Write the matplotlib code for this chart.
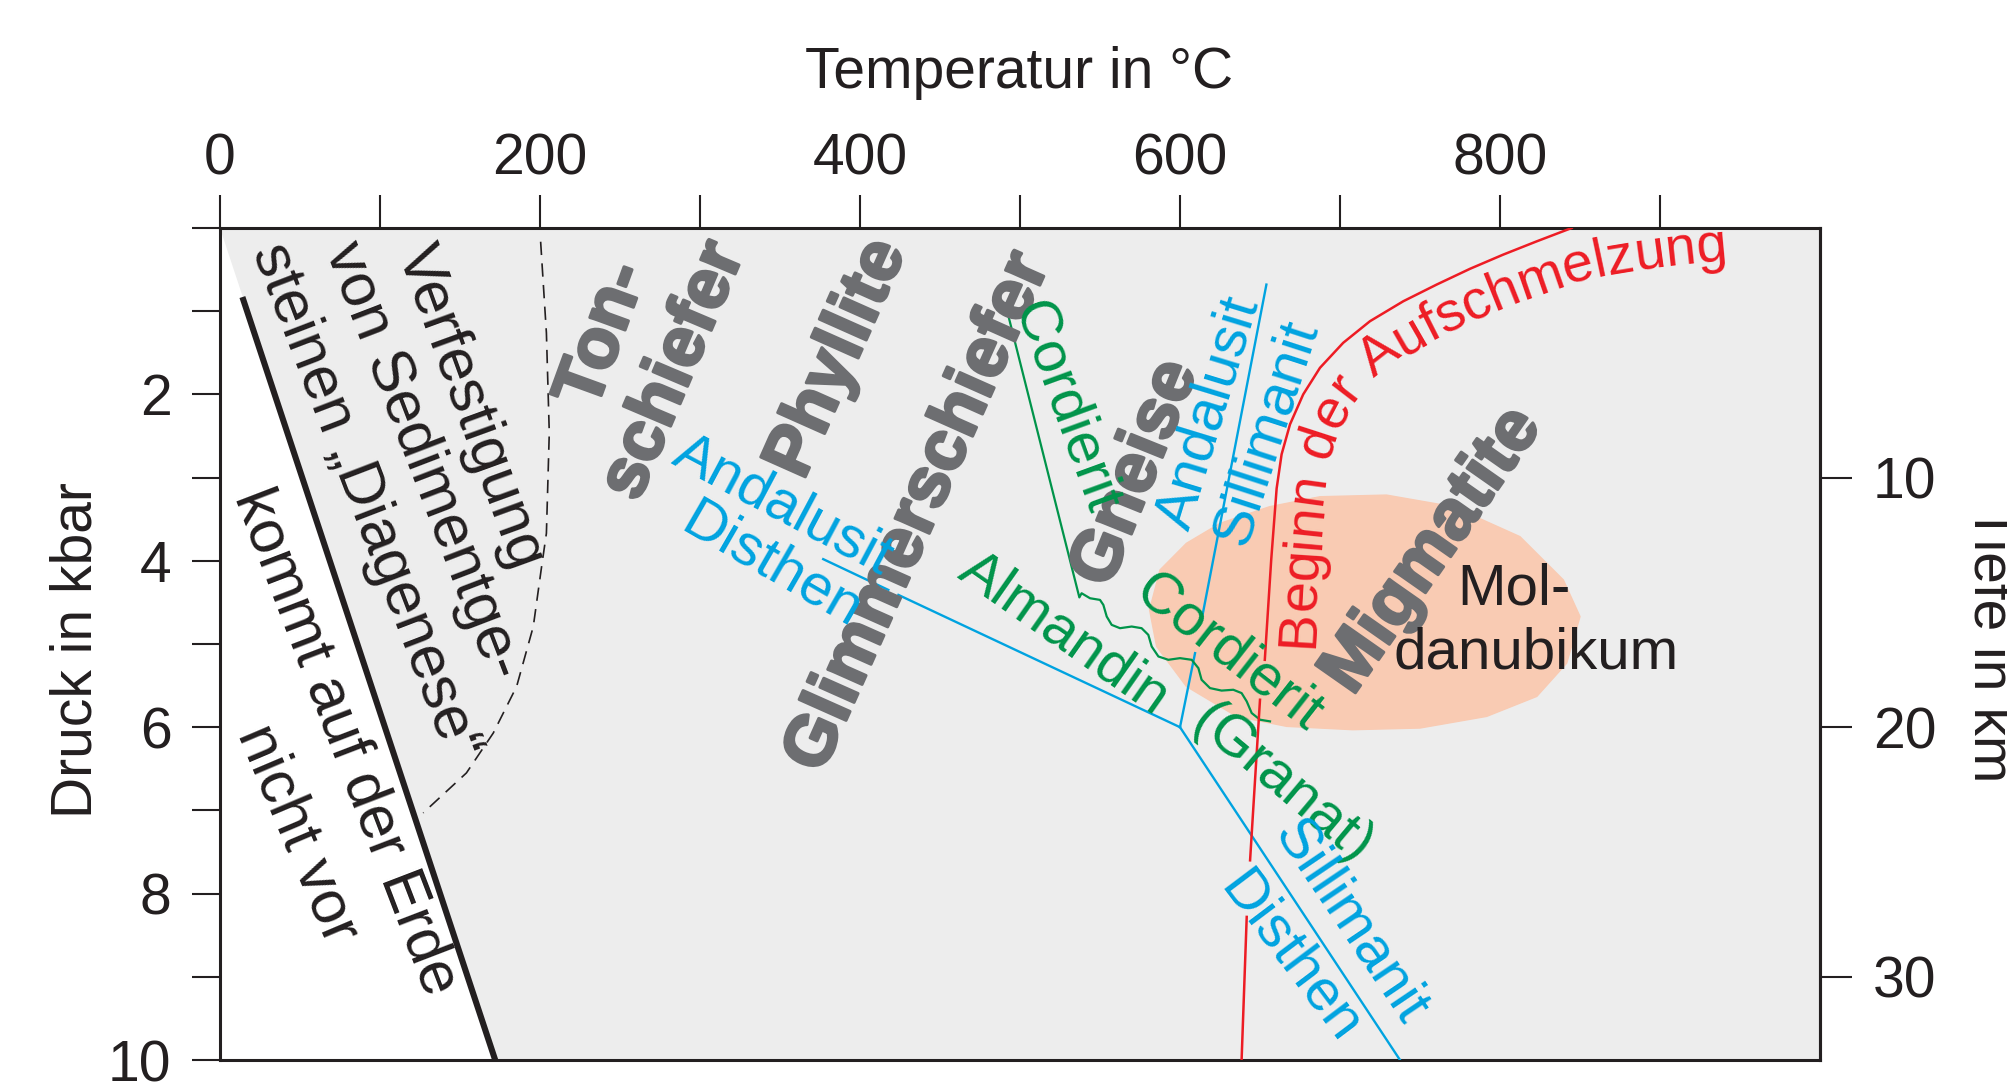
import numpy as np
import matplotlib
matplotlib.use('Agg')
import matplotlib.pyplot as plt
import matplotlib.patheffects as pe
from matplotlib.patches import Polygon
from matplotlib.font_manager import FontProperties, findfont, get_font

plt.rcParams['font.family'] = ['Liberation Sans', 'DejaVu Sans']

# colours
INK = '#231f20'
BG = '#ededed'
ROCK = '#6d6e71'
BLUE = '#00a3e0'
GREEN = '#00944a'
RED = '#ed1c24'
PEACH = '#f9cbb3'

# axes
t_ticks = [0, 100, 200, 300, 400, 500, 600, 700, 800, 900]
t_labels = ['0', '', '200', '', '400', '', '600', '', '800', '']
p_ticks = [0, 1, 2, 3, 4, 5, 6, 7, 8, 9, 10]
p_labels = ['', '', '2', '', '4', '', '6', '', '8', '', '10']
depth_ticks = [10, 20, 30]
kbar_per_km = 0.3

# "kommt auf der Erde nicht vor" boundary (T in degC, P in kbar)
edge_T = [0, 172]
edge_P = [0, 10]
wall_T = [14, 172]
wall_P = [0.83, 10]

# diagenesis limit (dashed)
diag_T = [200.4, 204, 205.8, 204, 201, 195.8, 185.4, 170.8, 154, 127]
diag_P = [0.165, 1.26, 2.46, 3.67, 4.07, 4.79, 5.51, 6.07, 6.55, 7.03]

# Al2SiO5 phase boundaries
and_ky_T = [377, 417.7, np.nan, 424, 600]
and_ky_P = [3.98, 4.35, np.nan, 4.41, 6.0]
ky_sil_T = [600, 737.5]
ky_sil_P = [6.0, 10]
and_sil_T = [600, 609.4, np.nan, 613.5, 654]
and_sil_P = [6.0, 5.11, np.nan, 4.71, 0.68]

# cordierite boundary incl. wavy almandine/cordierite part
crd_T = [492, 537.1, 538.5, 543.75, 550, 552.1, 554.2, 557.3, 562.5, 569.8, 576,
         580.2, 582.3, 586.5, 592.7, 600, 607.3, 611.5, 613.5, 618.75, 626,
         633.3, 638.5, 641.7, 644.8, 650, 656.25]
crd_P = [1.0, 4.44, 4.39, 4.45, 4.47, 4.53, 4.67, 4.77, 4.81, 4.79, 4.81,
         4.89, 5.03, 5.15, 5.19, 5.17, 5.19, 5.29, 5.43, 5.53, 5.56,
         5.55, 5.59, 5.69, 5.83, 5.91, 5.93]

# begin of melting
melt_T = [844.8, 823, 802, 781.3, 760.4, 739.6, 718.75, 702, 687.5, 677, 668.75,
          663.5, 660.4, 657, 653, np.nan, 650, 643.8, np.nan, 641.7, 638.5]
melt_P = [0, 0.16, 0.32, 0.49, 0.68, 0.88, 1.12, 1.38, 1.68, 2.0, 2.36,
          2.72, 3.13, 3.99, 5.19, np.nan, 5.67, 7.6, np.nan, 8.28, 10]

# Moldanubikum field
mold_T = [581, 587.5, 604, 625, 656, 687.5, 729, 770.8, 812.5, 839.6, 850,
          841.7, 823, 791.7, 750, 708, 666.7, 635.4, 604, 585.4]
mold_P = [4.59, 4.11, 3.79, 3.55, 3.35, 3.23, 3.21, 3.35, 3.71, 4.23, 4.67,
          5.23, 5.63, 5.87, 6.01, 6.03, 5.99, 5.87, 5.51, 5.03]

# baseline of the curved melting label
melt_lbl_T = [683.1, 689, 695.8, 710.25, 735.2, 773.1, 813, 855, 900, 950]
melt_lbl_P = [5.05, 3.18, 2.55, 2.02, 1.58, 1.2, 0.87, 0.6, 0.46, 0.37]
melt_lbl = 'Beginn der Aufschmelzung'

fig = plt.figure(figsize=(20.07, 10.88), dpi=100)
ax = fig.add_axes([220 / 2007, 1 - 1060 / 1088, 1600 / 2007, 832 / 1088])
ax.set_xlim(0, 1000)
ax.set_ylim(10, 0)

ax.add_patch(Polygon([(edge_T[0], edge_P[0]), (1000, 0), (1000, 10), (edge_T[1], edge_P[1])],
                     closed=True, facecolor=BG, edgecolor='none', zorder=0))
ax.add_patch(Polygon(np.column_stack([mold_T, mold_P]), closed=True,
                     facecolor=PEACH, edgecolor=PEACH, lw=1, joinstyle='round', zorder=1))

ax.plot(wall_T, wall_P, color=INK, lw=4.4, solid_capstyle='butt', zorder=3)
ax.plot(diag_T, diag_P, color=INK, lw=1.2, dashes=(8, 5), zorder=3)
for T, P in [(and_ky_T, and_ky_P), (ky_sil_T, ky_sil_P), (and_sil_T, and_sil_P)]:
    ax.plot(T, P, color=BLUE, lw=1.7, zorder=3)
ax.plot(crd_T, crd_P, color=GREEN, lw=1.6, solid_joinstyle='round', zorder=3)
ax.plot(melt_T, melt_P, color=RED, lw=1.8, solid_joinstyle='round', zorder=3)

# labels: text, T, P, rotation, colour, size, weight
labels = [
    ('Verfestigung', 156, 2.15, -70, INK, 44, 'normal'),
    ('von Sedimentge-', 126.4, 2.8, -69, INK, 44, 'normal'),
    ('steinen \u201eDiagenese\u201c', 90.4, 3.29, -69, INK, 44, 'normal'),
    ('kommt auf der Erde', 78.4, 6.18, -69, INK, 44, 'normal'),
    ('nicht vor', 48, 7.29, -67, INK, 44, 'normal'),
    ('Ton-', 240, 1.29, 70, ROCK, 51, 'bold'),
    ('schiefer', 284, 1.72, 67, ROCK, 51, 'bold'),
    ('Phyllite', 386.4, 1.57, 66, ROCK, 51, 'bold'),
    ('Glimmerschiefer', 436.8, 3.42, 66, ROCK, 51, 'bold'),
    ('Gneise', 572.8, 2.95, 68, ROCK, 51, 'bold'),
    ('Migmatite', 758, 3.88, 55, ROCK, 51, 'bold'),
    ('Mol-', 808.8, 4.35, 0, INK, 42, 'normal'),
    ('danubikum', 822.4, 5.11, 0, INK, 42, 'normal'),
    ('Andalusit', 352, 3.34, -28, BLUE, 42, 'normal'),
    ('Disthen', 344.8, 4.06, -30, BLUE, 42, 'normal'),
    ('Cordierit', 528, 2.15, -70, GREEN, 42, 'normal'),
    ('Andalusit', 618.4, 2.22, 73, BLUE, 42, 'normal'),
    ('Sillimanit', 654.4, 2.46, 72, BLUE, 42, 'normal'),
    ('Almandin', 528, 4.88, -35, GREEN, 42, 'normal'),
    ('Cordierit', 630.4, 5.11, -38, GREEN, 42, 'normal'),
    ('(Granat)', 664, 6.68, -40, GREEN, 42, 'normal'),
    ('Sillimanit', 706.4, 8.34, -56, BLUE, 42, 'normal'),
    ('Disthen', 668.8, 8.77, -53, BLUE, 42, 'normal'),
]
for s, T, P, rot, col, size, weight in labels:
    t = ax.text(T, P, s, rotation=rot, rotation_mode='anchor', ha='center', va='center',
                color=col, fontsize=size, fontweight=weight, zorder=4)
    if weight == 'bold':
        t.set_path_effects([pe.withStroke(linewidth=2.2, foreground=col)])

# curved label along the melting curve
size = 40
fp = FontProperties(family='Liberation Sans', size=size)
font = get_font(findfont(fp))
font.set_size(size, fig.dpi)
adv = np.array([font.load_char(ord(c)).linearHoriAdvance / 65536 for c in melt_lbl])
mid = np.cumsum(adv) - adv / 2
pts = ax.transData.transform(np.column_stack([melt_lbl_T, melt_lbl_P]))
seg = np.diff(pts, axis=0)
seglen = np.hypot(seg[:, 0], seg[:, 1])
cum = np.concatenate([[0], np.cumsum(seglen)])
inv = ax.transData.inverted()
for c, d in zip(melt_lbl, mid):
    if c == ' ':
        continue
    k = int(np.clip(np.searchsorted(cum, d) - 1, 0, len(seg) - 1))
    p = pts[k] + (d - cum[k]) / seglen[k] * seg[k]
    # blend direction of neighbouring segments for a smoother bend
    frac = (d - cum[k]) / seglen[k]
    a0 = np.arctan2(seg[k, 1], seg[k, 0])
    if frac > 0.5 and k + 1 < len(seg):
        a1 = np.arctan2(seg[k + 1, 1], seg[k + 1, 0])
        ang = a0 + (a1 - a0) * (frac - 0.5)
    elif frac <= 0.5 and k > 0:
        a1 = np.arctan2(seg[k - 1, 1], seg[k - 1, 0])
        ang = a0 + (a1 - a0) * (0.5 - frac)
    else:
        ang = a0
    x, y = inv.transform(p)
    ax.text(x, y, c, rotation=np.degrees(ang), rotation_mode='anchor', ha='center', va='baseline',
            color=RED, fontsize=size, zorder=4)

# axes styling
for sp in ax.spines.values():
    sp.set_linewidth(2.2)
    sp.set_color(INK)
ax.xaxis.tick_top()
ax.set_xticks(t_ticks)
ax.set_xticklabels(t_labels)
ax.set_yticks(p_ticks)
ax.set_yticklabels(p_labels)
ax.tick_params(axis='x', length=24, width=1.5, pad=6, labelsize=41, colors=INK)
ax.tick_params(axis='y', length=20, width=1.5, pad=15, labelsize=41, colors=INK)

sec = ax.secondary_yaxis('right', functions=(lambda p: p / kbar_per_km, lambda d: d * kbar_per_km))
sec.set_yticks(depth_ticks)
sec.tick_params(axis='y', length=23, width=1.5, pad=15, labelsize=41, colors=INK)
sec.spines['right'].set_linewidth(2.2)

fig.text(0.508, 0.933, 'Temperatur in \u00b0C', ha='center', va='center', fontsize=41, color=INK)
fig.text(0.038, 0.4026, 'Druck in kbar', ha='center', va='center', rotation=90, fontsize=41, color=INK)
fig.text(0.978, 0.408, 'Tiefe in km', ha='left', va='center', rotation=-90, fontsize=41, color=INK)

fig.savefig('out.png', dpi=100)
